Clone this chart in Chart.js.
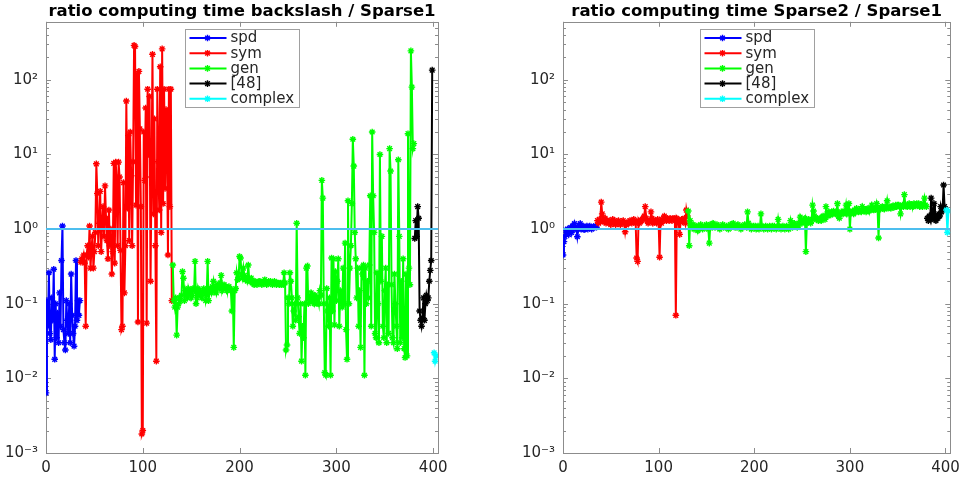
<!DOCTYPE html>
<html>
<head>
<meta charset="utf-8">
<script src="https://cdn.jsdelivr.net/npm/chart.js@4.4.0/dist/chart.umd.min.js"></script>
<style>
  html, body { margin: 0; padding: 0; background: #fff; }
  #wrap { position: relative; width: 966px; height: 480px; }
  canvas { position: absolute; top: 0; }
  #left { left: 0; }
  #right { left: 483px; }
</style>
</head>
<body>
<div id="wrap">
  <canvas id="left" width="483" height="480"></canvas>
  <canvas id="right" width="483" height="480"></canvas>
</div>
<script>
// series names and the first matrix index of each group
const seriesNames = ['spd', 'sym', 'gen', '[48]', 'complex'];
const seriesStart = [0, 36, 131, 381, 401];
const xTicks = [0, 100, 200, 300, 400];
const refX = [0, 405];
const refY = [1, 1];

// ratio backslash / Sparse1
const leftSpd = [0.0064, 0.11, 0.05, 0.26, 0.04, 0.033, 0.12, 0.06, 0.29, 0.018, 0.1, 0.035, 0.075, 0.03, 0.14, 0.05, 0.38, 1.1,
  0.045, 0.03, 0.024, 0.11, 0.06, 0.04, 0.1, 0.03, 0.25, 0.07, 0.04, 0.027, 0.05, 0.38, 0.06, 0.11, 0.07, 0.11];
const leftSym = [0.36, 0.4, 0.38, 0.45, 0.35, 0.05, 0.45, 0.6, 0.42, 1.1, 0.3, 0.55, 0.8, 0.3, 0.5, 0.9, 7.5, 3.0, 0.6, 1.2,
  3.2, 0.5, 1.2, 2.0, 0.8, 3.8, 1.4, 0.7, 0.4, 1.8, 0.6, 1.0, 0.25, 0.5, 7.6, 0.35, 7.9, 4.5, 0.6, 7.9,
  5.0, 0.52, 0.045, 0.05, 4.2, 0.14, 0.6, 52, 1.9, 18, 0.7, 20, 5.2, 0.6, 8, 290, 280, 2.1, 120, 0.057,
  130, 22, 2.0, 0.0018, 0.002, 20, 4.5, 42, 0.055, 75, 10, 60, 0.2, 5, 220, 1.6, 30, 0.6, 0.017, 75,
  8, 1.8, 150, 0.9, 260, 2.2, 75, 3.5, 40, 14, 0.45, 75, 2.0, 75, 0.11];
const leftGen = [0.33, 0.11, 0.09, 0.12, 0.038, 0.09, 0.1, 0.12, 0.11, 0.13,
  0.27, 0.22, 0.11, 0.15, 0.13, 0.12, 0.16, 0.14, 0.15, 0.12,
  0.13, 0.16, 0.15, 0.37, 0.1, 0.12, 0.16, 0.14, 0.15, 0.13,
  0.12, 0.14, 0.16, 0.15, 0.11, 0.13, 0.37, 0.11, 0.15, 0.16,
  0.14, 0.17, 0.2, 0.15, 0.16, 0.14, 0.18, 0.17, 0.16, 0.19,
  0.24, 0.15, 0.17, 0.18, 0.16, 0.17, 0.15, 0.16, 0.17, 0.16,
  0.15, 0.08, 0.15, 0.026, 0.15, 0.16, 0.26, 0.21, 0.22, 0.43,
  0.41, 0.25, 0.22, 0.3, 0.24, 0.21, 0.22, 0.2, 0.33, 0.21,
  0.2, 0.22, 0.19, 0.2, 0.18, 0.2, 0.19, 0.18, 0.19, 0.2,
  0.2, 0.19, 0.18, 0.19, 0.2, 0.21, 0.19, 0.18, 0.19, 0.2,
  0.19, 0.2, 0.19, 0.18, 0.19, 0.2, 0.19, 0.18, 0.19, 0.19,
  0.18, 0.19, 0.18, 0.19, 0.18, 0.26, 0.19, 0.024, 0.028, 0.12,
  0.1, 0.26, 0.2, 0.12, 0.05, 0.08, 0.1, 0.06, 1.2, 0.12,
  0.067, 0.04, 0.1, 0.017, 0.05, 0.035, 0.1, 0.011, 0.3, 0.32,
  0.1, 0.12, 0.11, 0.14, 0.13, 0.11, 0.1, 0.13, 0.12, 0.1,
  0.12, 0.1, 0.15, 0.13, 4.5, 2.6, 0.1, 0.012, 0.011, 0.16,
  0.08, 0.05, 0.12, 0.011, 0.41, 0.08, 0.4, 0.052, 0.27, 0.11,
  0.2, 0.4, 0.05, 0.15, 0.12, 0.09, 0.3, 0.1, 0.65, 0.045,
  0.018, 2.4, 0.1, 0.3, 0.6, 2.2, 16, 7, 0.9, 0.4,
  0.12, 0.3, 0.05, 0.15, 0.026, 0.3, 0.25, 0.33, 0.011, 0.3,
  0.1, 0.2, 0.12, 0.33, 2.8, 0.05, 20, 2.8, 0.9, 0.04,
  0.035, 0.26, 0.1, 0.03, 10, 0.2, 0.8, 0.05, 0.035, 0.15,
  0.3, 0.03, 0.18, 0.04, 12, 6, 0.18, 0.035, 0.03, 0.25,
  0.1, 0.05, 0.025, 8.5, 0.8, 0.03, 0.2, 0.035, 0.4, 0.025,
  0.019, 0.25, 0.02, 19, 0.3, 0.18, 245, 80, 12, 14];
const left48 = [0.75, 1.3, 0.8, 2.0, 1.4, 0.08, 0.06, 0.05, 0.065, 0.12, 0.06, 0.1, 0.13, 0.11, 0.12, 0.2, 0.28, 0.38, 135];
const leftComplex = [0.022, 0.017, 0.02];

// ratio Sparse2 / Sparse1
const rightSpd = [0.45, 0.68, 0.8, 0.97, 0.9, 1.0, 0.85, 0.95, 1.05, 0.9, 1.1, 1.0, 1.19, 1.05, 1.0, 0.79, 1.0, 1.1,
  1.19, 1.0, 1.05, 1.1, 0.98, 1.0, 1.05, 1.1, 1.0, 1.05, 1.1, 1.05, 1.0, 1.05, 1.08, 1.05, 1.1, 1.06];
const rightSym = [1.3, 1.2, 1.35, 1.25, 2.3, 1.6, 1.3, 1.25, 1.4, 1.2,
  1.3, 1.25, 1.2, 1.3, 1.15, 1.25, 1.35, 1.2, 1.3, 1.15,
  1.2, 1.25, 1.3, 1.2, 1.15, 1.2, 1.25, 1.3, 1.2, 0.92,
  1.15, 1.2, 1.25, 1.2, 1.3, 1.25, 1.2, 1.3, 1.35, 1.25,
  1.2, 0.41, 0.37, 1.3, 1.2, 1.25, 1.3, 1.35, 1.4, 1.5,
  2.0, 1.4, 1.3, 1.2, 1.25, 1.3, 1.7, 1.4, 1.2, 1.3,
  1.25, 1.3, 1.2, 1.35, 1.25, 0.42, 1.3, 1.2, 1.3, 1.4,
  1.5, 1.35, 1.3, 1.4, 1.35, 1.3, 1.4, 1.35, 1.3, 1.4,
  1.35, 1.4, 0.07, 1.4, 1.3, 1.2, 0.85, 1.3, 1.35, 1.25,
  1.3, 1.4, 1.2, 1.8, 1.5];
const rightGen = [1.75, 0.6, 1.3, 1.1, 1.05, 1.15, 1.0, 1.1, 1.05, 1.1,
  0.95, 1.1, 1.05, 1.15, 1.1, 1.0, 1.05, 1.1, 1.05, 1.15,
  1.1, 1.0, 0.65, 1.15, 1.1, 1.05, 1.2, 1.1, 1.05, 1.1,
  1.15, 1.05, 1.1, 1.0, 1.05, 1.1, 1.15, 1.05, 1.1, 1.05,
  1.1, 1.05, 1.0, 1.1, 1.15, 1.05, 1.1, 1.2, 1.1, 1.05,
  1.1, 1.05, 1.15, 1.1, 1.05, 1.0, 1.1, 1.05, 1.1, 1.15,
  1.1, 1.05, 1.7, 1.2, 1.05, 1.1, 1.0, 1.05, 1.1, 1.05,
  1.1, 1.0, 1.05, 1.1, 1.0, 1.05, 1.6, 1.1, 1.05, 1.0,
  1.05, 1.1, 1.05, 1.0, 1.05, 1.1, 1.05, 1.0, 1.1, 1.05,
  1.1, 1.05, 1.0, 1.05, 1.35, 1.1, 1.05, 1.0, 1.05, 1.1,
  1.05, 1.0, 1.05, 1.1, 1.05, 1.0, 1.05, 1.3, 1.1, 1.05,
  1.1, 1.2, 1.15, 1.1, 1.05, 1.1, 1.2, 1.45, 1.3, 1.2,
  1.25, 1.3, 1.4, 0.5, 1.2, 1.25, 1.35, 1.3, 1.2, 1.3,
  2.1, 1.75, 1.5, 1.4, 1.35, 1.4, 1.3, 1.35, 1.4, 1.3,
  1.45, 1.5, 1.4, 1.35, 2.0, 1.6, 1.5, 1.7, 1.6, 1.55,
  1.7, 1.6, 1.75, 1.65, 1.6, 1.7, 2.2, 1.5, 1.4, 1.6,
  1.7, 1.65, 1.6, 1.75, 1.7, 2.1, 1.6, 1.7, 2.2, 1.0,
  1.7, 1.65, 1.75, 1.6, 1.8, 1.7, 1.9, 1.75, 1.7, 1.8,
  1.75, 1.7, 2.0, 1.8, 1.75, 1.85, 1.7, 1.8, 1.9, 1.75,
  1.85, 1.8, 2.1, 1.9, 1.8, 1.85, 1.9, 2.2, 1.8, 0.76,
  1.9, 1.85, 1.95, 2.0, 1.9, 1.85, 2.0, 1.95, 2.4, 1.9,
  2.0, 1.95, 1.9, 2.0, 2.05, 1.95, 2.0, 2.1, 2.0, 2.1,
  2.1, 2.0, 1.6, 2.0, 2.1, 2.0, 2.9, 2.1, 2.05, 2.0,
  2.1, 2.2, 2.0, 2.15, 2.1, 2.0, 2.2, 2.1, 2.05, 2.2,
  2.1, 2.2, 2.0, 2.15, 2.1, 2.0, 2.2, 2.6, 2.1, 2.0];
const right48 = [1.4, 1.3, 1.5, 1.35, 2.6, 1.4, 1.6, 2.2, 1.35, 1.3, 1.5, 1.4, 1.6, 1.5, 2.0, 1.7, 1.8, 3.9, 2.0];
const rightComplex = [1.8, 0.9, 1.75];

const colors = ['#0000ff', '#ff0000', '#00ff00', '#000000', '#00ffff'];
const refColor = '#4dbeee';
const FONT = 'DejaVu Sans';
const SUP = { '-': '\u207b', '0': '\u2070', '1': '\u00b9', '2': '\u00b2', '3': '\u00b3' };

function decadeLabel(v) {
    const l = Math.log10(v);
    const r = Math.round(l);
    if (Math.abs(l - r) > 1e-6) return '';
    return '10' + String(r).split('').map(c => SUP[c] || c).join('');
}

// box around the axes with MATLAB style inward ticks
const frame = {
    id: 'frame',
    beforeDatasetsDraw(chart) {
        const { ctx, chartArea: a, scales: { x, y } } = chart;
        ctx.save();
        ctx.strokeStyle = '#8c8c8c';
        ctx.lineWidth = 1;
        ctx.beginPath();
        const e0 = Math.floor(Math.log10(y.min)), e1 = Math.ceil(Math.log10(y.max));
        for (let e = e0; e <= e1; e++) {
            for (let m = 1; m <= 9; m++) {
                const v = m * Math.pow(10, e);
                if (v < y.min * 0.999 || v > y.max) continue;
                const len = m === 1 ? 5 : 3;
                const py = Math.round(y.getPixelForValue(v)) + 0.5;
                ctx.moveTo(a.left, py); ctx.lineTo(a.left + len, py);
                ctx.moveTo(a.right, py); ctx.lineTo(a.right - len, py);
            }
        }
        xTicks.forEach(v => {
            const px = Math.round(x.getPixelForValue(v)) + 0.5;
            ctx.moveTo(px, a.bottom); ctx.lineTo(px, a.bottom - 5);
            ctx.moveTo(px, a.top); ctx.lineTo(px, a.top + 5);
        });
        ctx.stroke();
        ctx.strokeRect(Math.round(a.left) + 0.5, Math.round(a.top) + 0.5,
            Math.round(a.right - a.left), Math.round(a.bottom - a.top));
        ctx.restore();
    }
};

function drawStar(ctx, cx, cy, r) {
    ctx.beginPath();
    for (let k = 0; k < 4; k++) {
        const ang = k * Math.PI / 4;
        ctx.moveTo(cx - r * Math.cos(ang), cy - r * Math.sin(ang));
        ctx.lineTo(cx + r * Math.cos(ang), cy + r * Math.sin(ang));
    }
    ctx.stroke();
}

// legend box inside the top of the axes
const boxLegend = {
    id: 'boxLegend',
    afterDraw(chart) {
        const { ctx, chartArea: a } = chart;
        const items = chart.data.datasets.filter(d => d.inLegend);
        ctx.save();
        ctx.font = '15px "' + FONT + '"';
        const tw = Math.max(...items.map(d => ctx.measureText(d.label).width));
        const w = Math.round(4 + 37 + 4 + tw + 5);
        const h = 78;
        const x0 = Math.round((a.left + a.right) / 2 - w / 2) + 0.5;
        const y0 = Math.round(a.top) + 7.5;
        ctx.fillStyle = '#ffffff';
        ctx.fillRect(x0, y0, w, h);
        ctx.strokeStyle = '#a0a0a0';
        ctx.lineWidth = 1;
        ctx.strokeRect(x0, y0, w, h);
        items.forEach((d, i) => {
            const cy = y0 + 8.5 + i * 15.2;
            ctx.strokeStyle = d.borderColor;
            ctx.lineWidth = 2;
            ctx.beginPath();
            ctx.moveTo(x0 + 4, cy);
            ctx.lineTo(x0 + 41, cy);
            ctx.stroke();
            ctx.lineWidth = 1.4;
            drawStar(ctx, x0 + 22, cy, 3.3);
            ctx.fillStyle = '#262626';
            ctx.textBaseline = 'middle';
            ctx.fillText(d.label, x0 + 45, cy + 0.5);
        });
        ctx.restore();
    }
};

function makeChart(id, title, values, yAxisWidth, rightPad) {
    const datasets = seriesNames.map((name, k) => ({
        label: name,
        data: values[k].map((v, i) => ({ x: seriesStart[k] + i, y: v })),
        borderColor: colors[k],
        backgroundColor: colors[k],
        pointBorderColor: colors[k],
        pointBackgroundColor: colors[k],
        borderWidth: 2,
        pointStyle: 'star',
        pointRadius: 3.3,
        pointBorderWidth: 1.4,
        tension: 0,
        order: 10 - k,
        inLegend: true
    }));
    datasets.push({
        label: 'ref',
        data: refX.map((x, i) => ({ x: x, y: refY[i] })),
        borderColor: refColor,
        borderWidth: 2,
        pointRadius: 0,
        order: 0
    });

    return new Chart(document.getElementById(id), {
        type: 'line',
        data: { datasets },
        options: {
            responsive: false,
            animation: false,
            events: [],
            layout: { padding: { left: 0, right: rightPad, top: 0, bottom: 0 } },
            plugins: {
                legend: { display: false },
                tooltip: { enabled: false },
                title: {
                    display: true,
                    text: title,
                    fullSize: false,
                    color: '#000000',
                    padding: { top: 2, bottom: 0 },
                    font: { family: FONT, size: 16.5, weight: 'bold' }
                }
            },
            scales: {
                x: {
                    type: 'linear',
                    min: 0,
                    max: 405,
                    grid: { display: false, drawTicks: false },
                    border: { display: false },
                    afterBuildTicks(s) { s.ticks = xTicks.map(v => ({ value: v })); },
                    ticks: {
                        padding: 6,
                        color: '#262626',
                        font: { family: FONT, size: 15 }
                    },
                    afterFit(s) { s.height = 27; }
                },
                y: {
                    type: 'logarithmic',
                    min: 0.001,
                    max: 600,
                    grid: { display: false, drawTicks: false },
                    border: { display: false },
                    ticks: {
                        autoSkip: false,
                        padding: 8,
                        color: '#262626',
                        font: { family: FONT, size: 15 },
                        callback: decadeLabel
                    },
                    afterFit(s) { s.width = yAxisWidth; }
                }
            }
        },
        plugins: [frame, boxLegend]
    });
}

document.addEventListener('DOMContentLoaded', () => {
    makeChart('left', 'ratio computing time backslash / Sparse1',
        [leftSpd, leftSym, leftGen, left48, leftComplex], 46, 45);
    makeChart('right', 'ratio computing time Sparse2 / Sparse1',
        [rightSpd, rightSym, rightGen, right48, rightComplex], 80, 12);
});
</script>
</body>
</html>
